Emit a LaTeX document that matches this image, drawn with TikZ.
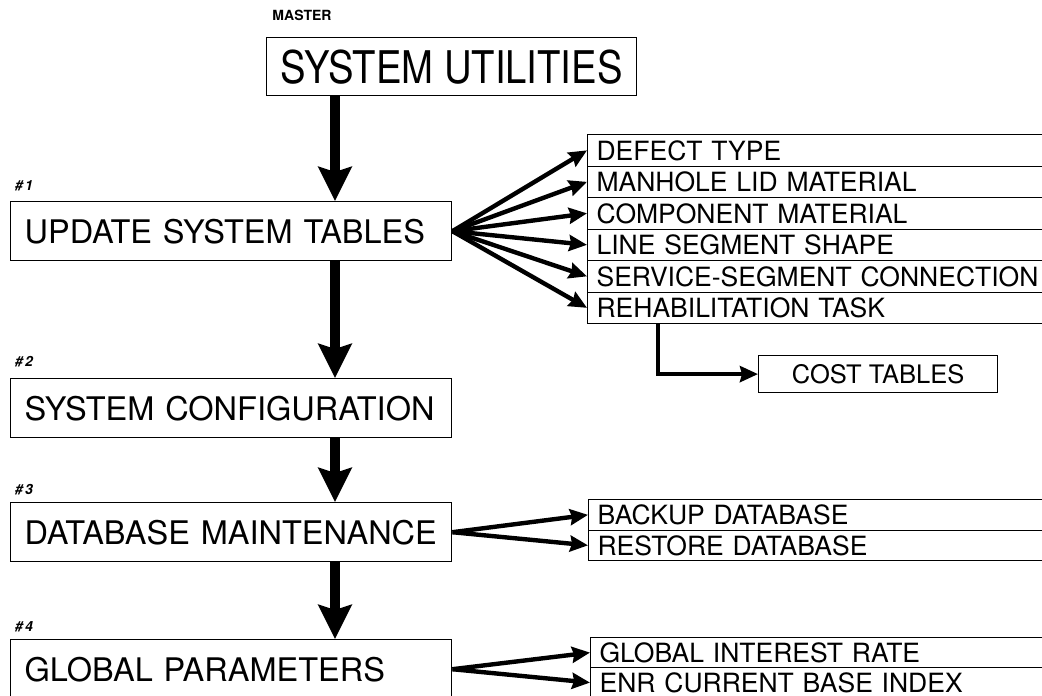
\documentclass[tikz,border=0pt]{standalone}
\usepackage{fontspec}
\setmainfont{TeX Gyre Heros}
\usetikzlibrary{arrows.meta,calc}

\begin{document}
\begin{tikzpicture}[x=1pt,y=-1pt,
  titlebox/.style={draw,line width=1.4pt,anchor=north west,minimum width=370pt,
    minimum height=58pt,inner sep=0pt},
  mainbox/.style={draw,line width=1.4pt,anchor=north west,text width=413pt,
    inner xsep=14pt,inner ysep=0pt,minimum height=59pt,align=left,
    font=\fontsize{32.5}{36}\selectfont},
  rowbox/.style={draw,line width=1.2pt,anchor=north west,text width=480pt,
    inner xsep=9pt,inner ysep=0pt,minimum height=#1,align=left,
    font=\fontsize{26.5}{29}\selectfont},
  costbox/.style={draw,line width=1.2pt,anchor=north west,minimum width=239pt,
    minimum height=37pt,inner sep=0pt,font=\fontsize{25.5}{28}\selectfont},
  tag/.style={font=\fontsize{14}{16}\selectfont\bfseries\itshape,inner sep=0pt},
  bigarrow/.style={line width=10.5pt,-{Stealth[length=34pt,width=33pt,inset=5pt]}},
  fanarrow/.style={line width=4.4pt,-{Stealth[length=18pt,width=16pt,inset=2pt]}},
]
\useasboundingbox (0,0) rectangle (1042,696);
\clip (0,0) rectangle (1042,696);

% top level menu
\node[font=\fontsize{14}{16}\selectfont\bfseries,inner sep=0pt] (master) at (302,15) {MASTER};
\node[titlebox] (util) at (266,37)
  {\scalebox{0.85}[1]{\fontsize{45}{48}\selectfont SYSTEM UTILITIES}};

% main menu options
\node[tag] (t1) at (24,186) {\#\,1};
\node[mainbox] (update) at (10,201) {UPDATE SYSTEM TABLES};
\node[tag] (t2) at (24,362) {\#\,2};
\node[mainbox] (config) at (10,378) {SYSTEM CONFIGURATION};
\node[tag] (t3) at (24,490) {\#\,3};
\node[mainbox] (dbm) at (10,502) {DATABASE MAINTENANCE};
\node[tag] (t4) at (24,627) {\#\,4};
\node[mainbox] (glob) at (10,639) {GLOBAL PARAMETERS};

% system tables
\node[rowbox=31.5pt] (r1) at (587,134)   {DEFECT TYPE};
\node[rowbox=31.5pt] (r2) at (587,165.5) {MANHOLE LID MATERIAL};
\node[rowbox=31.5pt] (r3) at (587,197)   {COMPONENT MATERIAL};
\node[rowbox=31.5pt] (r4) at (587,228.5) {LINE SEGMENT SHAPE};
\node[rowbox=31.5pt] (r5) at (587,260)   {SERVICE-SEGMENT CONNECTION};
\node[rowbox=31.5pt] (r6) at (587,291.5) {REHABILITATION TASK};
\node[costbox] (cost) at (758,355) {COST TABLES};

% database utilities
\node[rowbox=30.5pt] (b1) at (588,499)   {BACKUP DATABASE};
\node[rowbox=30.5pt] (b2) at (588,529.5) {RESTORE DATABASE};

% parameters
\node[rowbox=30pt] (g1) at (590,637) {GLOBAL INTEREST RATE};
\node[rowbox=30pt] (g2) at (590,667) {ENR CURRENT BASE INDEX};

% main flow
\coordinate (spine) at (335,0);
\draw[bigarrow] (util.south -| spine) -- (update.north -| spine);
\draw[bigarrow] (update.south -| spine) -- (config.north -| spine);
\draw[bigarrow] (config.south -| spine) -- (dbm.north -| spine);
\draw[bigarrow] (dbm.south -| spine) -- (glob.north -| spine);

% branches
\foreach \r in {r1,r2,r3,r4,r5,r6}
  \draw[fanarrow] (update.east) -- (\r.west);
\foreach \r in {b1,b2}
  \draw[fanarrow] (dbm.east) -- (\r.west);
\foreach \r in {g1,g2}
  \draw[fanarrow] (glob.east) -- (\r.west);

\coordinate (drop) at (658,0);
\draw[fanarrow] (r6.south -| drop) |- (cost.west);
\end{tikzpicture}
\end{document}
